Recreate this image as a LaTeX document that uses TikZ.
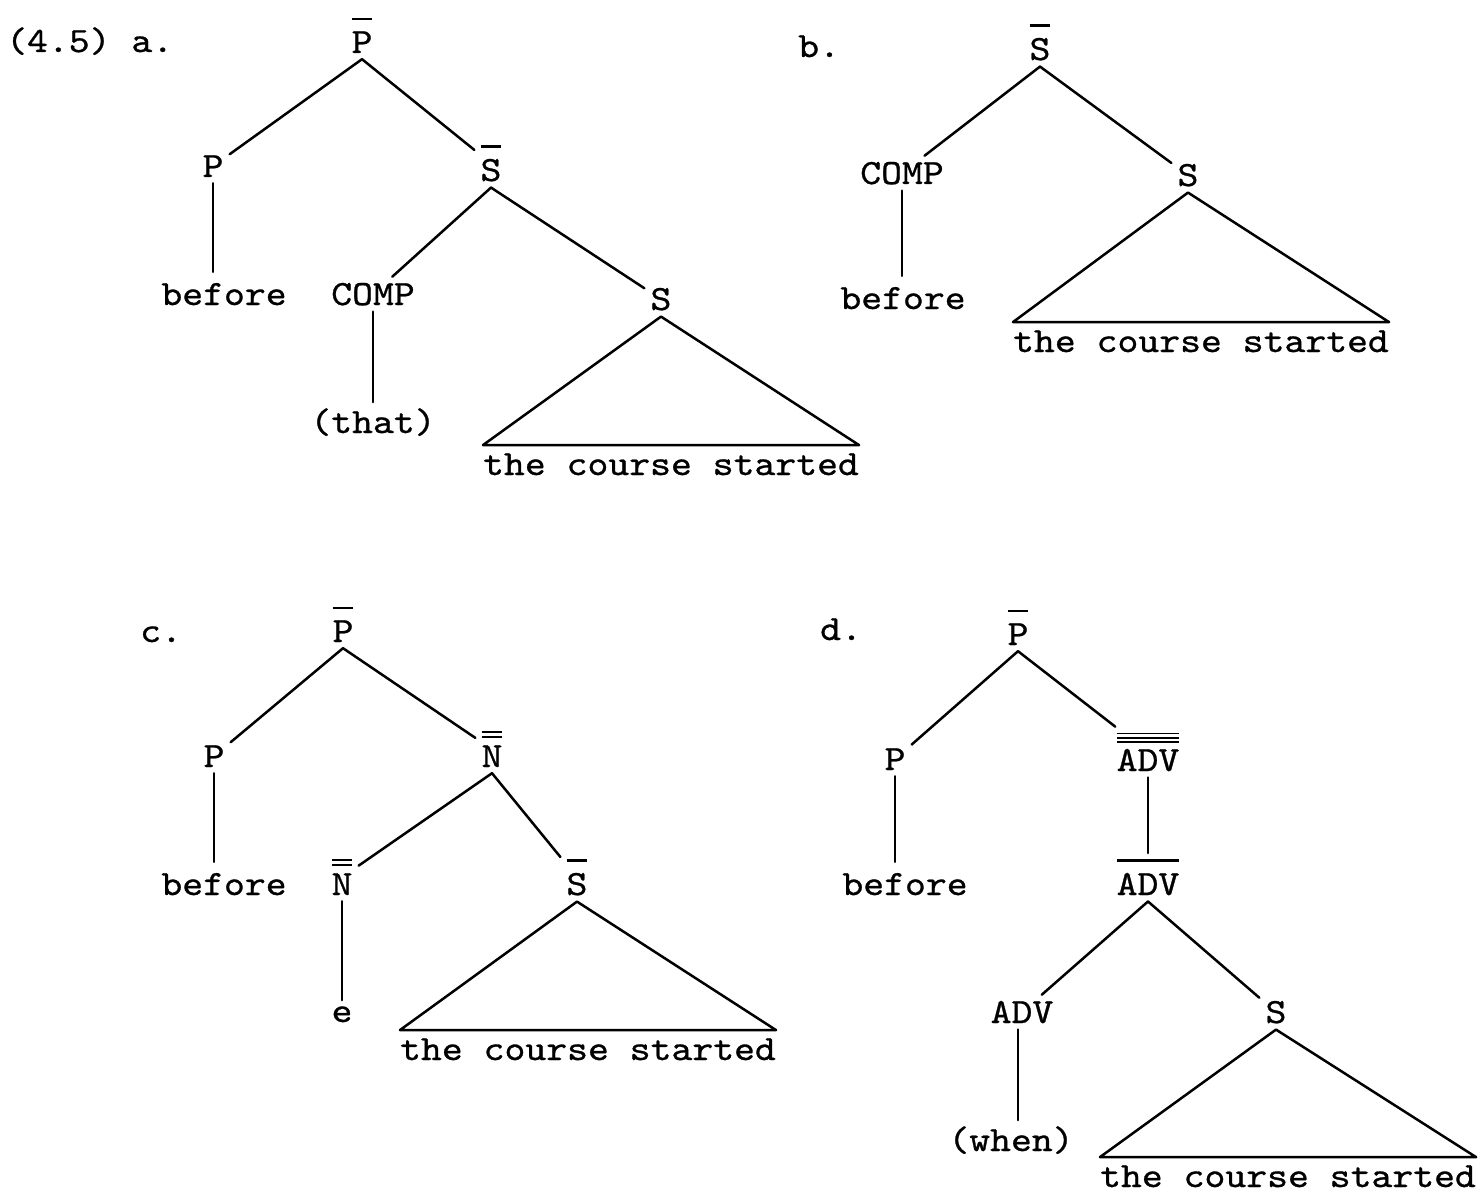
\documentclass[tikz,border=0pt]{standalone}
\usepackage{fontspec}
\newfontfamily\tw{lmmono10-regular.otf}[FakeStretch=1.12,FakeBold=0.8]
\newcommand\tf{\tw\fontsize{35.5pt}{40pt}\selectfont}
\newcommand\oneb[1]{\vbox{\offinterlineskip\hrule height 2.6pt\kern 11pt\hbox{#1}}}
\newcommand\twob[1]{\vbox{\offinterlineskip\hrule height 2pt\kern 3pt\hrule height 2pt\kern 7pt\hbox{#1}}}
\newcommand\threeb[1]{\vbox{\offinterlineskip\hrule height 1.6pt\kern 2.6pt\hrule height 1.6pt\kern 2.6pt\hrule height 1.6pt\kern 6pt\hbox{#1}}}
\begin{document}
\begin{tikzpicture}[x=1pt,y=-1pt,
  lab/.style={font=\tf, anchor=base, inner sep=6pt},
  tri/.style={font=\tf, anchor=base, inner xsep=0pt, inner ysep=8pt},
  edge/.style={line width=2.5pt, line cap=round, line join=round},
  vedge/.style={edge, shorten >=5pt}]
\useasboundingbox (0,0) rectangle (1482,1193);
% ---------- (a)
\node[lab, anchor=base west] (la) at (0,52) {(4.5) a.};
\node[lab] (aR) at (362,53) {\oneb{P}};
\node[lab] (aP) at (213,177) {P};
\node[lab] (aSb) at (491,181) {\oneb{S}};
\node[lab] (abef) at (224,305) {before};
\node[lab] (acomp) at (373,305) {COMP};
\node[lab] (aS) at (661,310) {S};
\node[lab] (athat) at (373,433) {(that)};
\node[tri] (atxt) at (671,475) {the course started};
\draw[edge] (aR.south) -- (aP);
\draw[edge] (aR.south) -- (aSb);
\draw[vedge] (aP.south) -- (aP.south |- abef.north);
\draw[edge] (aSb.south) -- (acomp);
\draw[edge] (aSb.south) -- (aS);
\draw[edge] (acomp.south) -- (acomp.south |- athat.north);
\draw[edge] (aS.south) -- (atxt.north west) -- (atxt.north east) -- cycle;
% ---------- (b)
\node[lab, anchor=base west] (lb) at (792,57) {b.};
\node[lab] (bR) at (1040,60) {\oneb{S}};
\node[lab] (bcomp) at (902,184) {COMP};
\node[lab] (bS) at (1188,186) {S};
\node[lab] (bbef) at (903,309) {before};
\node[tri] (btxt) at (1201,352) {the course started};
\draw[edge] (bR.south) -- (bcomp);
\draw[edge] (bR.south) -- (bS);
\draw[vedge] (bcomp.south) -- (bcomp.south |- bbef.north);
\draw[edge] (bS.south) -- (btxt.north west) -- (btxt.north east) -- cycle;
% ---------- (c)
\node[lab, anchor=base west] (lc) at (134,642) {c.};
\node[lab] (cR) at (343,642) {\oneb{P}};
\node[lab] (cP) at (214,767) {P};
\node[lab] (cN) at (492,767) {\twob{N}};
\node[lab] (cbef) at (224,895) {before};
\node[lab] (cN2) at (342,895) {\twob{N}};
\node[lab] (cSb) at (577,895) {\oneb{S}};
\node[lab] (ce) at (342,1022) {e};
\node[tri] (ctxt) at (588,1060) {the course started};
\draw[edge] (cR.south) -- (cP);
\draw[edge] (cR.south) -- (cN);
\draw[vedge] (cP.south) -- (cP.south |- cbef.north);
\draw[edge] (cN.south) -- (cN2);
\draw[edge] (cN.south) -- (cSb);
\draw[edge] (cN2.south) -- (cN2.south |- ce.north);
\draw[edge] (cSb.south) -- (ctxt.north west) -- (ctxt.north east) -- cycle;
% ---------- (d)
\node[lab, anchor=base west] (ld) at (814,640) {d.};
\node[lab] (dR) at (1018,645) {\oneb{P}};
\node[lab] (dP) at (895,770) {P};
\node[lab] (dA3) at (1148,771) {\threeb{ADV}};
\node[lab] (dbef) at (905,895) {before};
\node[lab] (dA1) at (1148,895) {\oneb{ADV}};
\node[lab] (dA) at (1022,1023) {ADV};
\node[lab] (dS) at (1276,1023) {S};
\node[lab] (dwhen) at (1011,1151) {(when)};
\node[tri] (dtxt) at (1288,1187) {the course started};
\draw[edge] (dR.south) -- (dP);
\draw[edge] (dR.south) -- (dA3);
\draw[vedge] (dP.south) -- (dP.south |- dbef.north);
\draw[edge] (dA3.south) -- (dA1.north);
\draw[edge] (dA1.south) -- (dA);
\draw[edge] (dA1.south) -- (dS);
\draw[edge] (dA.south) ++(-4,0) coordinate (dAv) -- (dAv |- dwhen.north);
\draw[edge] (dS.south) -- (dtxt.north west) -- (dtxt.north east) -- cycle;
\end{tikzpicture}
\end{document}
